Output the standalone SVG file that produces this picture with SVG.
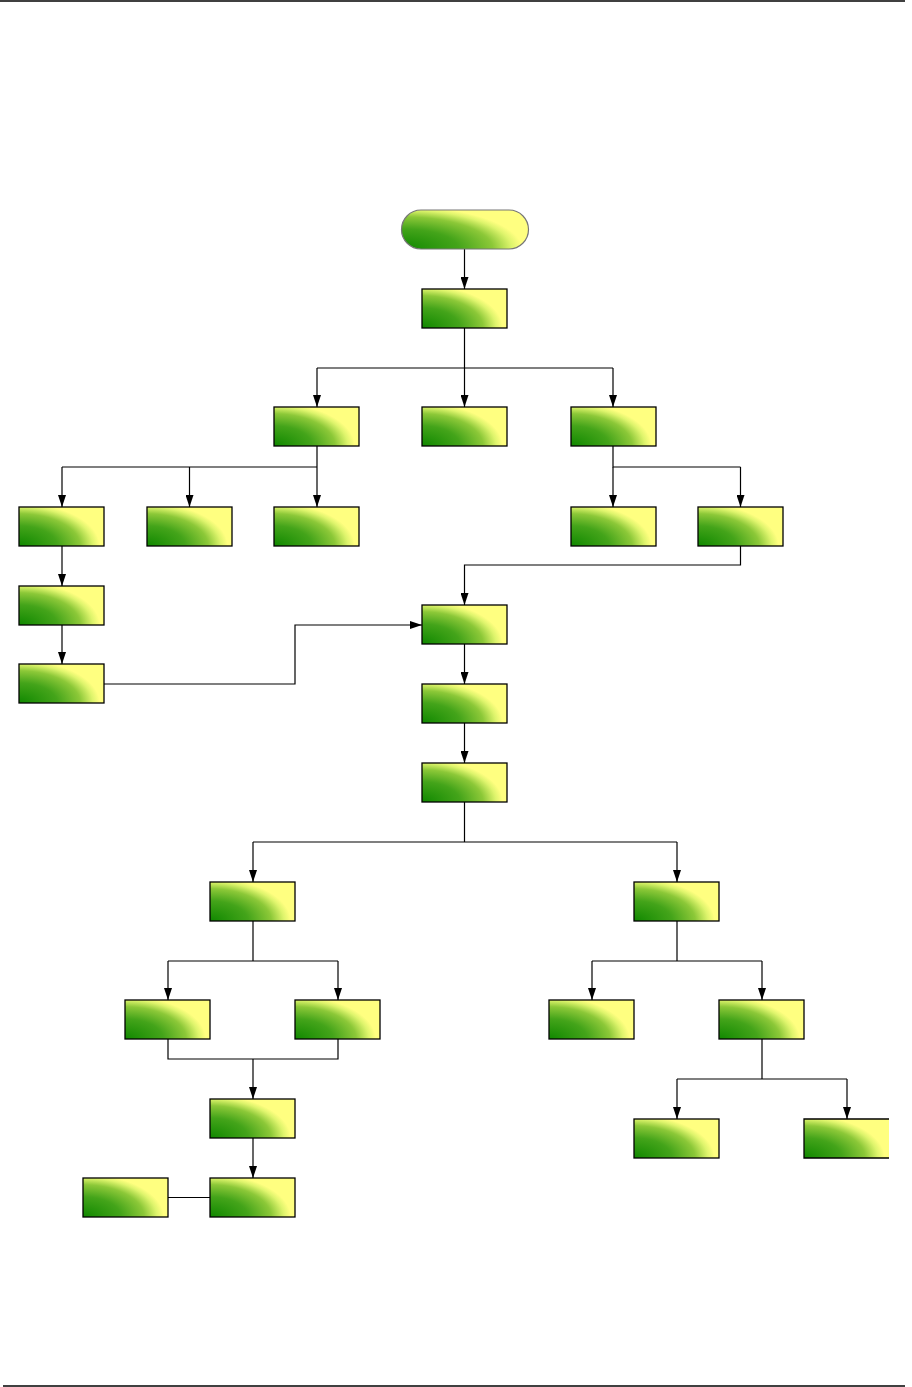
<svg xmlns="http://www.w3.org/2000/svg" width="912" height="1387" viewBox="0 0 912 1387">
<style>
.n{fill:url(#g);stroke:#000;stroke-width:1.3}
.c{fill:none;stroke:#000;stroke-width:1.2}
.a{marker-end:url(#ar)}
</style>
<defs>
<radialGradient id="g" cx="0" cy="1" r="1" fx="0" fy="1" gradientTransform="translate(0,1) scale(1,1.15) translate(0,-1)">
<stop offset="0" stop-color="#108800"/>
<stop offset="0.45" stop-color="#44a41a"/>
<stop offset="0.72" stop-color="#8cc838"/>
<stop offset="0.87" stop-color="#def46c"/>
<stop offset="0.95" stop-color="#ffff80"/>
<stop offset="1" stop-color="#ffff80"/>
</radialGradient>
<marker id="ar" viewBox="0 0 12 8" refX="12" refY="4" markerWidth="12" markerHeight="8" markerUnits="userSpaceOnUse" orient="auto">
<path d="M0,0 L12,4 L0,8 z" fill="#000"/>
</marker>
</defs>
<rect width="912" height="1387" fill="#fff"/>
<line x1="0" y1="1" x2="905" y2="1" stroke="#000" stroke-width="1.3"/>
<line x1="3" y1="1386" x2="905" y2="1386" stroke="#000" stroke-width="1.3"/>

<g id="connectors">
<path class="c a" d="M464.5,249 V289"/>
<path class="c" d="M464.5,328 V368 M317,368 H613"/>
<path class="c a" d="M317,368 V407"/>
<path class="c a" d="M464.5,368 V407"/>
<path class="c a" d="M613,368 V407"/>
<path class="c" d="M317,446 V467 M62,467 H317"/>
<path class="c a" d="M62,467 V507"/>
<path class="c a" d="M189.5,467 V507"/>
<path class="c a" d="M317,467 V507"/>
<path class="c" d="M613,446 V467 H740.5"/>
<path class="c a" d="M613,467 V507"/>
<path class="c a" d="M740.5,467 V507"/>
<path class="c a" d="M62,546 V586"/>
<path class="c a" d="M62,625 V664"/>
<path class="c a" d="M740.5,546 V565 H464.5 V605"/>
<path class="c a" d="M104,684 H295 V625 H422"/>
<path class="c a" d="M464.5,644 V684"/>
<path class="c a" d="M464.5,723 V763"/>
<path class="c" d="M464.5,802 V842 M253,842 H677"/>
<path class="c a" d="M253,842 V882"/>
<path class="c a" d="M677,842 V882"/>
<path class="c" d="M253,921 V961 M168,961 H338"/>
<path class="c a" d="M168,961 V1000"/>
<path class="c a" d="M338,961 V1000"/>
<path class="c" d="M168,1039 V1059 H338 V1039"/>
<path class="c a" d="M253,1059 V1099"/>
<path class="c a" d="M253,1138 V1178"/>
<path class="c" d="M168,1197.5 H210"/>
<path class="c" d="M677,921 V961 M592,961 H762"/>
<path class="c a" d="M592,961 V1000"/>
<path class="c a" d="M762,961 V1000"/>
<path class="c" d="M762,1039 V1079 M677,1079 H847"/>
<path class="c a" d="M677,1079 V1119"/>
<path class="c a" d="M847,1079 V1119"/>
</g>

<g id="start"><rect x="401.5" y="210" width="127" height="39" rx="19.5" fill="url(#g)" stroke="#777" stroke-width="1.2"/></g>
<g id="n1"><rect class="n" x="422" y="289" width="85" height="39"/></g>
<g id="n2"><rect class="n" x="274" y="407" width="85" height="39"/></g>
<g id="n3"><rect class="n" x="422" y="407" width="85" height="39"/></g>
<g id="n4"><rect class="n" x="571" y="407" width="85" height="39"/></g>
<g id="n5"><rect class="n" x="19" y="507" width="85" height="39"/></g>
<g id="n6"><rect class="n" x="147" y="507" width="85" height="39"/></g>
<g id="n7"><rect class="n" x="274" y="507" width="85" height="39"/></g>
<g id="n8"><rect class="n" x="571" y="507" width="85" height="39"/></g>
<g id="n9"><rect class="n" x="698" y="507" width="85" height="39"/></g>
<g id="n10"><rect class="n" x="19" y="586" width="85" height="39"/></g>
<g id="n11"><rect class="n" x="19" y="664" width="85" height="39"/></g>
<g id="n12"><rect class="n" x="422" y="605" width="85" height="39"/></g>
<g id="n13"><rect class="n" x="422" y="684" width="85" height="39"/></g>
<g id="n14"><rect class="n" x="422" y="763" width="85" height="39"/></g>
<g id="n15"><rect class="n" x="210" y="882" width="85" height="39"/></g>
<g id="n16"><rect class="n" x="634" y="882" width="85" height="39"/></g>
<g id="n17"><rect class="n" x="125" y="1000" width="85" height="39"/></g>
<g id="n18"><rect class="n" x="295" y="1000" width="85" height="39"/></g>
<g id="n19"><rect class="n" x="210" y="1099" width="85" height="39"/></g>
<g id="n20"><rect class="n" x="210" y="1178" width="85" height="39"/></g>
<g id="n21"><rect class="n" x="83" y="1178" width="85" height="39"/></g>
<g id="n22"><rect class="n" x="549" y="1000" width="85" height="39"/></g>
<g id="n23"><rect class="n" x="719" y="1000" width="85" height="39"/></g>
<g id="n24"><rect class="n" x="634" y="1119" width="85" height="39"/></g>
<g id="n25"><rect x="804" y="1119" width="85" height="39" fill="url(#g)"/><path d="M889,1119 H804 V1158 H889" fill="none" stroke="#000" stroke-width="1.3"/></g>
</svg>
